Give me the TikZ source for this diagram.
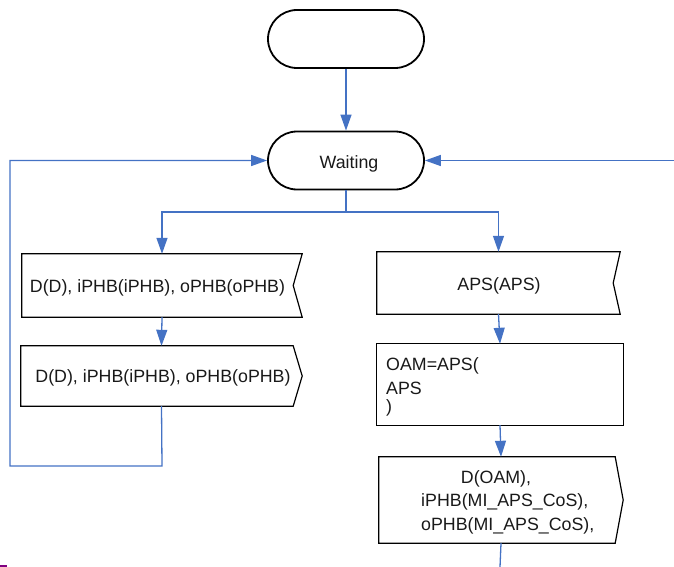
\documentclass[tikz,border=0pt]{standalone}
\usepackage{fontspec}
\setmainfont{Liberation Sans}
\usetikzlibrary{arrows.meta}
\definecolor{flowblue}{RGB}{68,114,196}
\definecolor{markpurple}{RGB}{128,0,128}
\begin{document}
\begin{tikzpicture}[x=1pt,y=-1pt,
  term/.style={draw=black,line width=1.8pt,rounded corners=29pt,minimum width=156pt,minimum height=58pt,inner sep=0pt},
  frame/.style={draw=none,inner sep=0pt},
  outline/.style={draw=black,line width=1.2pt,line join=miter},
  conn/.style={draw=flowblue,line width=1.3pt},
  arr/.style={conn,-{Triangle[length=16pt,width=11pt]}},
  txt/.style={inner sep=0pt,anchor=base,font=\fontsize{17.8}{21}\selectfont,text=black!90}
]
\useasboundingbox (0,0) rectangle (674,567);

% terminators
\node[term] (start) at (346,39) {};
\node[term] (wait) at (346,160.5) {};
\node[txt] (waitT) at (349,168) {Waiting};

% left column frames
\node[frame,minimum width=280pt,minimum height=63pt] (b1) at (162,285.5) {};
\node[frame,minimum width=281pt,minimum height=60pt] (b2) at (161.5,376) {};
% right column frames
\node[frame,minimum width=243pt,minimum height=62pt] (a1) at (498.5,283) {};
\node[frame,minimum width=246pt,minimum height=81pt] (a2) at (500,384.5) {};
\node[frame,minimum width=244pt,minimum height=86pt] (a3) at (501,500) {};

% outlines: notched (input) and pointed (output) boxes
\draw[outline] (b1.north west) -- (b1.north east) -- ([xshift=-9pt]b1.east) -- (b1.south east) -- (b1.south west) -- cycle;
\draw[outline] (b2.north west) -- ([xshift=-9pt]b2.north east) -- (b2.east) -- ([xshift=-9pt]b2.south east) -- (b2.south west) -- cycle;
\draw[outline] (a1.north west) -- (a1.north east) -- ([xshift=-7pt]a1.east) -- (a1.south east) -- (a1.south west) -- cycle;
\draw[outline] (a2.north west) rectangle (a2.south east);
\draw[outline] (a3.north west) -- ([xshift=-8pt]a3.north east) -- (a3.east) -- ([xshift=-8pt]a3.south east) -- (a3.south west) -- cycle;

% texts
\node[txt] (b1T) at (157.5,292) {D(D), iPHB(iPHB), oPHB(oPHB)};
\node[txt] (b2T) at (163,382) {D(D), iPHB(iPHB), oPHB(oPHB)};
\node[txt] (a1T) at (499,290) {APS(APS)};
\node[txt,anchor=base west] (a2T1) at (386,370) {OAM=APS(};
\node[txt,anchor=base west] (a2T2) at (386,394) {APS};
\node[txt,anchor=base west] (a2T3) at (386,412) {)};
\node[txt] (a3T1) at (496,483) {D(OAM),};
\node[txt,anchor=base west] (a3T2) at (421,506) {iPHB(MI\_APS\_CoS),};
\node[txt,anchor=base west] (a3T3) at (421,530) {oPHB(MI\_APS\_CoS),};

% connectors
\coordinate (split) at (346,212);
\coordinate (loopA) at (162,466);
\coordinate (loopB) at (10,466);
\coordinate (loopC) at (10,160.5);
\coordinate (rightIn) at (674,160.5);
\coordinate (bottomOut) at (500,567);

\draw[arr] (start.south) -- (wait.north);
\draw[conn] (wait.south) -- (split);
\draw[arr] (split) -| (b1.north);
\draw[arr] (split) -| (a1.north);
\draw[arr] (b1.south) -- (b2.north);
\draw[arr] (b2.south) -- (loopA) -- (loopB) -- (loopC) -- (wait.west);
\draw[arr] (rightIn) -- (wait.east);
\draw[arr] (a1.south) -- (a2.north);
\draw[arr] (a2.south) -- (a3.north);
\draw[conn] (a3.south) -- (bottomOut);

% small mark at the lower left edge
\draw[markpurple,line width=2pt] (0,565.5) -- (7,565.5);
\end{tikzpicture}
\end{document}
